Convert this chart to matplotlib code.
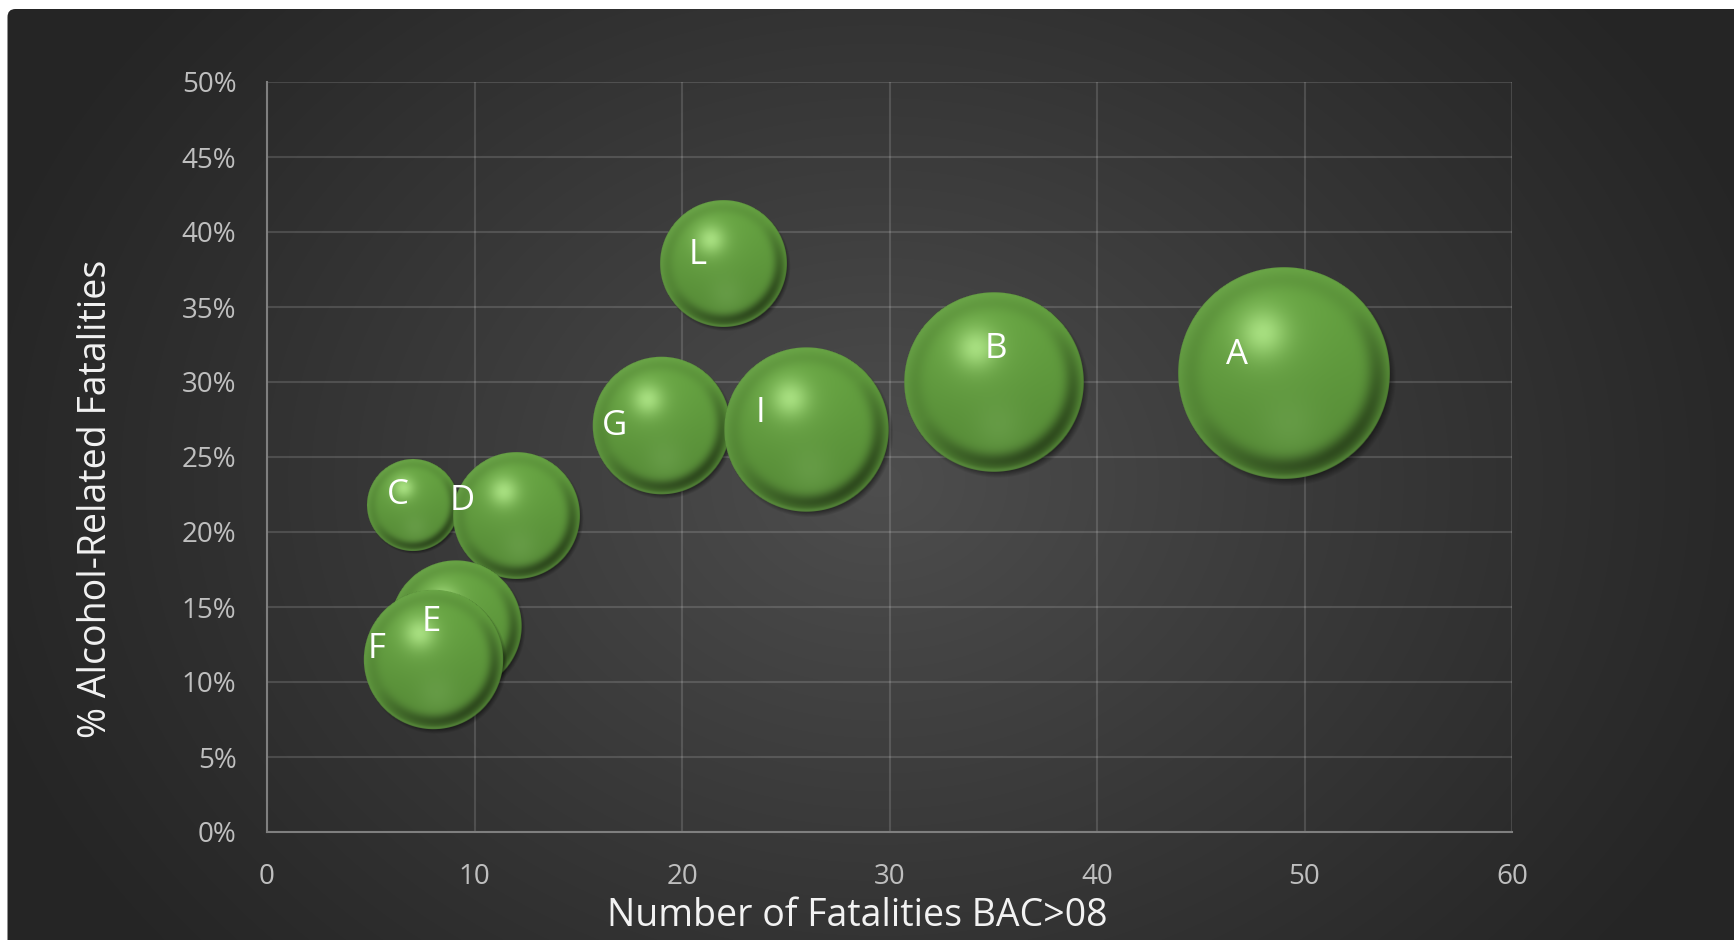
import matplotlib.pyplot as plt
import numpy as np
from matplotlib.patches import FancyBboxPatch
from matplotlib.ticker import PercentFormatter

plt.rcParams['font.family'] = ['Open Sans', 'DejaVu Sans']

# data
labels = ['A', 'B', 'C', 'D', 'E', 'F', 'G', 'I', 'L']
fatalities = [49, 35, 7, 12, 9.1, 8, 19, 26, 22]
pct_alcohol = [0.306, 0.30, 0.218, 0.211, 0.137, 0.115, 0.271, 0.268, 0.379]
bubble_size = [53, 38, 10, 19, 20.5, 23, 22.5, 32, 19]

x_ticks = [0, 10, 20, 30, 40, 50, 60]
y_ticks = [0, 0.05, 0.10, 0.15, 0.20, 0.25, 0.30, 0.35, 0.40, 0.45, 0.50]

# label offsets (pixels) from bubble centre, as placed on the original chart
label_offsets = [(-47, 22), (3, 36), (-14, 13), (-54, 18), (-25, 8),
                 (-56, 14), (-47, 3), (-46, 20), (-26, 12)]

W, H = 1734, 940
MAX_R = 106  # pixel radius of the largest bubble


def smooth(e0, e1, x):
    t = np.clip((x - e0) / (e1 - e0), 0, 1)
    return t * t * (3 - 2 * t)


def sphere_rgba(R, pad=1.12):
    n = int(2 * pad * R)
    t = np.linspace(-pad, pad, n)
    u, v = np.meshgrid(t, t)
    r = np.sqrt(u ** 2 + v ** 2)

    base = np.array([88, 142, 56]) / 255
    col = base * (1.06 - 0.1 * v)[..., None]
    # soft broad light upper left
    h2 = 0.2 * np.exp(-((u + 0.2) ** 2 + (v + 0.35) ** 2) / (2 * 0.38 ** 2))
    col = col + h2[..., None] * (np.array([160, 215, 120]) / 255 - col)
    # lighter rim on the upper left
    rim_t = 0.25 * smooth(0.85, 1.0, r) * np.clip(-(u + v) * 0.7, 0, 1)
    col = col + rim_t[..., None] * (np.array([120, 175, 90]) / 255 - col)
    # dark band near the rim, stronger lower right
    e = np.exp(-((r - 0.88) / 0.1) ** 2) * (0.08 + 0.45 * np.clip(v * 0.7 + u * 0.5 + 0.1, 0, 1))
    col = col * (1 - e)[..., None]
    # lighter rim at the very bottom
    rim = 0.35 * smooth(0.94, 1.0, r) * np.clip(v - 0.2 * u, 0, 1)
    col = col + rim[..., None] * (np.array([110, 165, 80]) / 255 - col)
    # specular highlight
    h = 0.75 * np.exp(-((u + 0.2) ** 2 + (v + 0.38) ** 2) / (2 * 0.16 ** 2))
    col = col + h[..., None] * (np.array([185, 240, 145]) / 255 - col)
    # reflected glow at the bottom
    g = 0.22 * np.exp(-((u - 0.05) ** 2 + (v - 0.5) ** 2) / (2 * 0.2 ** 2))
    col = col + g[..., None] * (np.array([140, 190, 110]) / 255 - col)
    col = np.clip(col, 0, 1)

    a = np.clip((1 - r) * R + 0.5, 0, 1)
    rs = np.sqrt((u - 0.04) ** 2 + (v - 0.05) ** 2)
    sh = 0.5 * np.clip((1.02 - rs) / 0.08, 0, 1)
    out_a = a + sh * (1 - a)
    out_rgb = col * (a / np.maximum(out_a, 1e-6))[..., None]
    return np.dstack([out_rgb, out_a]), pad


fig = plt.figure(figsize=(W / 100, H / 100), dpi=100, facecolor='white')

# dark panel with radial gradient
bg = fig.add_axes([0, 0, 1, 1], zorder=-10)
yy, xx = np.mgrid[0:H, 0:W]
tt = np.sqrt(((xx - 880) / 950) ** 2 + ((yy - 480) / 760) ** 2)
val = (37 + (78 - 37) * np.clip(1 - tt, 0, 1) ** 1.1) / 255
img = bg.imshow(np.dstack([val, val, val]), extent=(0, W, 0, H), origin='upper')
panel = FancyBboxPatch((7.5, -30), W + 30, H - 9 + 30,
                       boxstyle='round,pad=0,rounding_size=8',
                       transform=bg.transData, facecolor='none', edgecolor='none')
bg.add_patch(panel)
img.set_clip_path(panel)
bg.set_xlim(0, W)
bg.set_ylim(0, H)
bg.axis('off')

ax = fig.add_axes([267 / W, 1 - 832 / H, (1512 - 267) / W, (832 - 82) / H])
ax.set_facecolor('none')
ax.set_xlim(0, 60)
ax.set_ylim(0, 0.5)
ax.set_xticks(x_ticks)
ax.set_yticks(y_ticks)
ax.yaxis.set_major_formatter(PercentFormatter(1.0, decimals=0))
ax.tick_params(length=0, labelsize=20, colors='#bfbfbf')
ax.tick_params(axis='y', pad=22)
ax.tick_params(axis='x', pad=22)
ax.grid(color='white', alpha=0.14, linewidth=1.5)
ax.set_axisbelow(True)
for s in ['top', 'right']:
    ax.spines[s].set_visible(False)
for s in ['left', 'bottom']:
    ax.spines[s].set_color('#7f7f7f')
    ax.spines[s].set_linewidth(1.5)

for lab, x, y, s, off in zip(labels, fatalities, pct_alcohol, bubble_size, label_offsets):
    R = MAX_R * np.sqrt(s / max(bubble_size))
    rgba, pad = sphere_rgba(R)
    cx, cy = ax.transData.transform((x, y))
    x0, y0 = ax.transData.inverted().transform((cx - pad * R, cy - pad * R))
    x1, y1 = ax.transData.inverted().transform((cx + pad * R, cy + pad * R))
    ax.imshow(rgba, extent=(x0, x1, y0, y1), origin='upper', zorder=2,
              interpolation='bilinear', aspect='auto')
    ax.annotate(lab, (x, y), xytext=(off[0], off[1] - 12.5), textcoords='offset pixels',
                ha='center', va='baseline', color='white', fontsize=25, zorder=5)

ax.set_xlim(0, 60)
ax.set_ylim(0, 0.5)

fig.text(857 / W, 1 - 916 / H, 'Number of Fatalities BAC>08', ha='center', va='center',
         color='#f2f2f2', fontsize=27)
fig.text(96 / W, 1 - 499 / H, '% Alcohol-Related Fatalities', ha='center', va='center',
         rotation=90, color='#f2f2f2', fontsize=27)

fig.savefig('out.png', dpi=100, facecolor='white')
